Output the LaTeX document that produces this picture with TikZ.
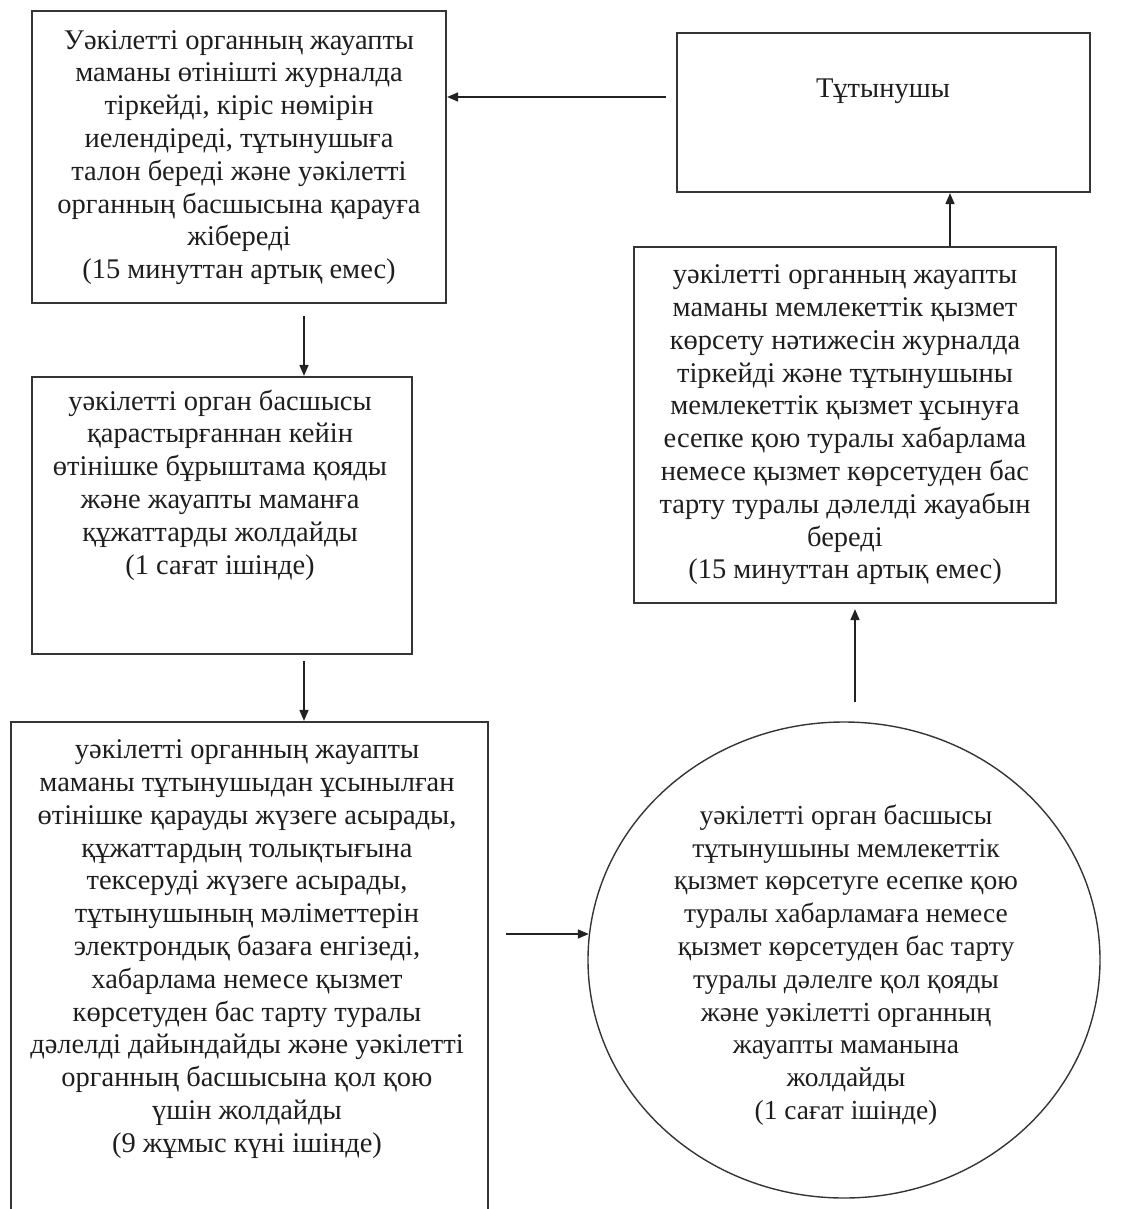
\documentclass[tikz,border=0pt]{standalone}
\usepackage{fontspec}
\setmainfont{Liberation Serif}
\usetikzlibrary{arrows.meta,shapes.geometric,calc}
\definecolor{bordc}{HTML}{353535}
\definecolor{arrc}{HTML}{222222}
\definecolor{txtc}{HTML}{1E1E1E}
\begin{document}
\begin{tikzpicture}[x=1pt,y=-1pt,
  box/.style={draw=bordc, line width=2.2pt, rectangle, inner sep=0pt},
  oval/.style={draw=bordc, line width=1.4pt, ellipse, inner sep=0pt},
  txt/.style={align=center, font=\fontsize{28.5}{32.8}\selectfont, text=txtc, inner sep=0pt},
  arr/.style={draw=arrc, line width=1.6pt, -{Triangle[length=11pt,width=9pt]}}]
\useasboundingbox (0,0) rectangle (1130,1209);
% boxes
\node[box, minimum width=414pt, minimum height=292pt] (A) at (239,157) {};
\node[box, minimum width=413pt, minimum height=159pt] (T) at (883.5,112.5) {};
\node[box, minimum width=380pt, minimum height=277pt] (B) at (222,515.5) {};
\node[box, minimum width=477pt, minimum height=493pt] (C) at (249.5,968.5) {};
\node[box, minimum width=422pt, minimum height=356pt] (D) at (845,425) {};
\node[oval, minimum width=512pt, minimum height=476pt] (E) at (844,960) {};
% texts
\node[txt] (tA) at (239,157.5) {Уәкілетті органның жауапты\\маманы өтінішті журналда\\тіркейді, кіріс нөмірін\\иелендіреді, тұтынушыға\\талон береді және уәкілетті\\органның басшысына қарауға\\жібереді\\(15 минуттан артық емес)};
\node[txt] (tT) at (883,91) {Тұтынушы};
\node[txt] (tB) at (220,485) {уәкілетті орган басшысы\\қарастырғаннан кейін\\өтінішке бұрыштама қояды\\және жауапты маманға\\құжаттарды жолдайды\\(1 сағат ішінде)};
\node[txt] (tC) at (247,949) {уәкілетті органның жауапты\\маманы тұтынушыдан ұсынылған\\өтінішке қарауды жүзеге асырады,\\құжаттардың толықтығына\\тексеруді жүзеге асырады,\\тұтынушының мәліметтерін\\электрондық базаға енгізеді,\\хабарлама немесе қызмет\\көрсетуден бас тарту туралы\\дәлелді дайындайды және уәкілетті\\органның басшысына қол қою\\үшін жолдайды\\(9 жұмыс күні ішінде)};
\node[txt] (tD) at (845,425) {уәкілетті органның жауапты\\маманы мемлекеттік қызмет\\көрсету нәтижесін журналда\\тіркейді және тұтынушыны\\мемлекеттік қызмет ұсынуға\\есепке қою туралы хабарлама\\немесе қызмет көрсетуден бас\\тарту туралы дәлелді жауабын\\береді\\(15 минуттан артық емес)};
\node[txt, font=\fontsize{27.5}{32.8}\selectfont] (tE) at (846,965) {уәкілетті орган басшысы\\тұтынушыны мемлекеттік\\қызмет көрсетуге есепке қою\\туралы хабарламаға немесе\\қызмет көрсетуден бас тарту\\туралы дәлелге қол қояды\\және уәкілетті органның\\жауапты маманына\\жолдайды\\(1 сағат ішінде)};
% connectors
\coordinate (yTA) at (0,97);
\coordinate (xAB) at (304,0);
\coordinate (yCE) at (0,934);
\coordinate (xED) at (855,0);
\coordinate (xDT) at (950,0);
\draw[arr, shorten <=10pt] (T.west |- yTA) -- (A.east |- yTA);
\draw[arr, shorten <=12pt] (A.south -| xAB) -- (B.north -| xAB);
\draw[arr, shorten <=6pt] (B.south -| xAB) -- (C.north -| xAB);
\draw[arr, shorten <=17pt] (C.east |- yCE) -- ([xshift=1.5pt]E.west |- yCE);
\draw[arr, shorten <=19pt, shorten >=5pt] (E.north -| xED) -- (D.south -| xED);
\draw[arr] (D.north -| xDT) -- (T.south -| xDT);
\end{tikzpicture}
\end{document}
